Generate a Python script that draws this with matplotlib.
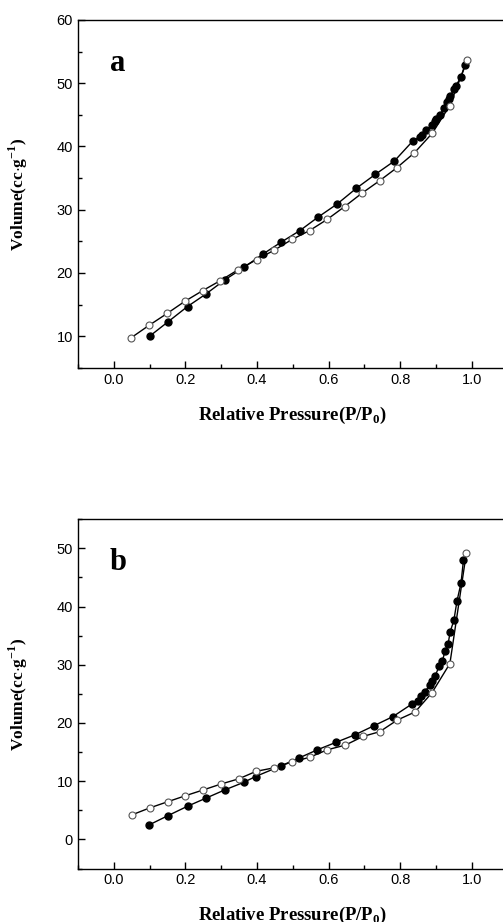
import numpy as np
import matplotlib
matplotlib.use('Agg')
import matplotlib.pyplot as plt
from matplotlib.ticker import MultipleLocator

plt.rcParams['font.family'] = ['Liberation Sans', 'DejaVu Sans']
plt.rcParams['mathtext.fontset'] = 'custom'
plt.rcParams['mathtext.rm'] = 'Liberation Serif'
plt.rcParams['mathtext.bf'] = 'Liberation Serif:bold'

# Panel a - adsorption (filled) and desorption (open)
a_ads_x = [0.10, 0.152, 0.206, 0.258, 0.31, 0.364, 0.417, 0.467, 0.52, 0.57, 0.624,
           0.678, 0.731, 0.784, 0.836, 0.855, 0.862, 0.873, 0.89, 0.897, 0.90,
           0.911, 0.922, 0.931, 0.937, 0.94, 0.95, 0.955, 0.97, 0.981]
a_ads_y = [10.0, 12.3, 14.7, 16.7, 18.9, 20.9, 23.0, 24.85, 26.7, 28.8, 30.9,
           33.4, 35.6, 37.7, 40.9, 41.5, 41.8, 42.6, 43.4, 44.1, 44.3,
           45.0, 46.0, 47.0, 47.5, 47.9, 49.1, 49.5, 51.0, 52.9]
a_des_x = [0.988, 0.938, 0.89, 0.84, 0.79, 0.743, 0.693, 0.645, 0.597, 0.547,
           0.498, 0.448, 0.399, 0.347, 0.298, 0.248, 0.198, 0.149, 0.098, 0.047]
a_des_y = [53.65, 46.4, 42.1, 39.0, 36.6, 34.6, 32.6, 30.5, 28.5, 26.7,
           25.3, 23.6, 22.1, 20.5, 18.8, 17.2, 15.5, 13.6, 11.7, 9.7]

# Panel b
b_ads_x = [0.099, 0.152, 0.206, 0.258, 0.31, 0.363, 0.396, 0.466, 0.518, 0.569,
           0.622, 0.675, 0.726, 0.78, 0.834, 0.85, 0.859, 0.87, 0.883, 0.889,
           0.897, 0.909, 0.918, 0.925, 0.934, 0.94, 0.95, 0.959, 0.97, 0.977]
b_ads_y = [2.5, 4.1, 5.7, 7.1, 8.5, 9.8, 10.8, 12.6, 14.0, 15.4,
           16.7, 18.0, 19.5, 21.1, 23.3, 23.8, 24.7, 25.4, 26.6, 27.2,
           28.0, 29.7, 30.6, 32.3, 33.6, 35.7, 37.6, 41.0, 44.0, 48.0]
b_des_x = [0.985, 0.939, 0.889, 0.842, 0.792, 0.743, 0.697, 0.647, 0.597, 0.547,
           0.498, 0.448, 0.398, 0.349, 0.299, 0.25, 0.20, 0.152, 0.10, 0.05]
b_des_y = [49.2, 30.2, 25.2, 21.9, 20.5, 18.5, 17.7, 16.2, 15.4, 14.1,
           13.3, 12.3, 11.7, 10.4, 9.5, 8.5, 7.5, 6.5, 5.4, 4.2]

fig = plt.figure(figsize=(5.03, 9.22), dpi=100)
ax_a = fig.add_axes([0.155, 0.601, 0.854, 0.3774])
ax_b = fig.add_axes([0.155, 0.058, 0.854, 0.3789])

panels = [
    (ax_a, a_ads_x, a_ads_y, a_des_x, a_des_y, (5, 60), 'a'),
    (ax_b, b_ads_x, b_ads_y, b_des_x, b_des_y, (-5, 55), 'b'),
]

for ax, ax_x, ax_y, dx, dy, ylim, letter in panels:
    ax.plot(ax_x, ax_y, color='black', lw=1.0, marker='o', ms=5,
            mfc='black', mec='black')
    ax.plot(dx, dy, color='black', lw=1.0, marker='o', ms=5,
            mfc='white', mec='#555555', mew=0.8)
    ax.set_xlim(-0.1, 1.1)
    ax.set_ylim(*ylim)
    ax.xaxis.set_major_locator(MultipleLocator(0.2))
    ax.xaxis.set_minor_locator(MultipleLocator(0.1))
    ax.yaxis.set_major_locator(MultipleLocator(10))
    ax.yaxis.set_minor_locator(MultipleLocator(5))
    ax.tick_params(which='both', direction='in', top=False, right=False,
                   labelsize=10.5, width=1.0)
    ax.tick_params(which='major', length=5)
    ax.tick_params(which='minor', length=3)
    for s in ax.spines.values():
        s.set_linewidth(1.0)
    ax.xaxis.set_major_formatter(plt.FuncFormatter(lambda v, p: '%.1f' % v))
    ax.set_xlabel(r'Relative Pressure(P/P$_{\mathbf{0}}$)', family='Liberation Serif',
                  weight='bold', fontsize=13.5)
    ax.set_ylabel(r'Volume(cc$\cdot$g$^{\mathbf{-1}}$)', family='Liberation Serif',
                  weight='bold', fontsize=12.5)
    ax.xaxis.set_label_coords(0.5, -0.105)
    ax.yaxis.set_label_coords(-0.112, 0.5)
    ax.text(0.093, 0.875, letter, transform=ax.transAxes, family='Liberation Serif',
            weight='bold', fontsize=22, ha='center', va='center')

fig.savefig('out.png', dpi=100)
